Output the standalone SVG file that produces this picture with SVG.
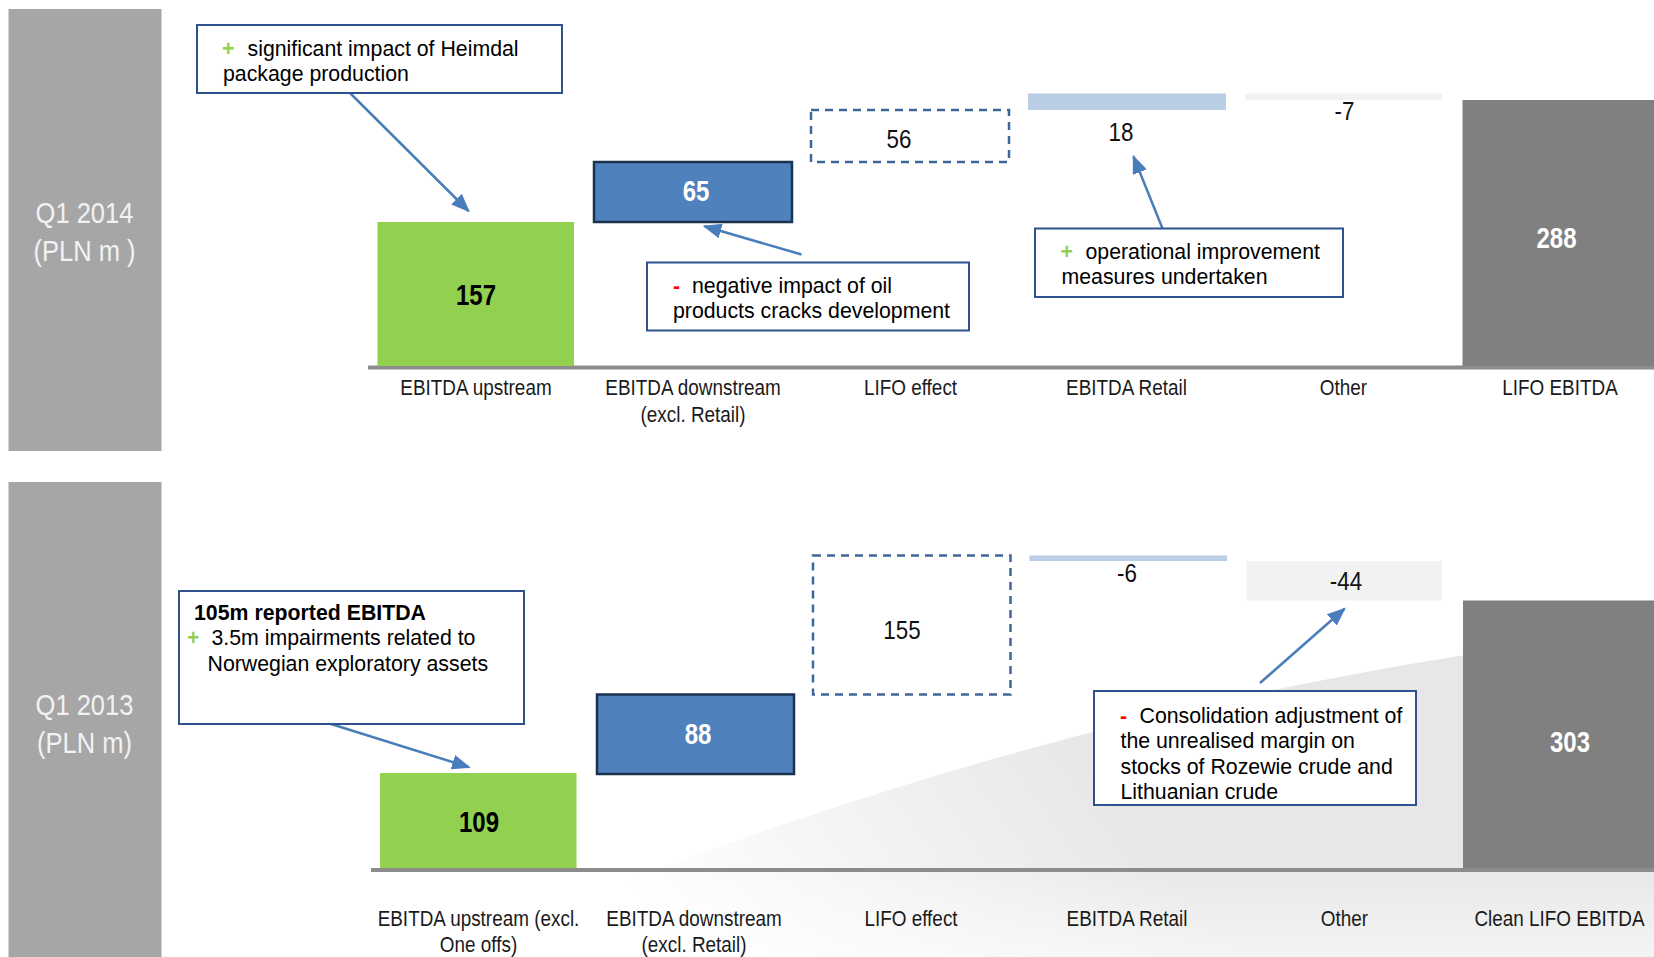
<svg xmlns="http://www.w3.org/2000/svg" width="1654" height="957" viewBox="0 0 1654 957">
<defs>
<style>
.panel{fill:#a6a6a6}
.ptxt{font-family:"Liberation Sans",Arial,sans-serif;font-size:29px;fill:#f2f2f2;text-anchor:middle}
.lbl{font-family:"Liberation Sans",Arial,sans-serif;font-size:22px;fill:#1a1a1a;text-anchor:middle}
.num{font-family:"Liberation Sans",Arial,sans-serif;font-size:26px;fill:#111;text-anchor:middle}
.bnum{font-family:"Liberation Sans",Arial,sans-serif;font-size:30px;font-weight:bold;text-anchor:middle}
.ctxt{font-family:"Liberation Sans",Arial,sans-serif;font-size:21.3px;fill:#000}
.plus{fill:#92d050;font-weight:bold}
.minus{fill:#ff0000;font-weight:bold}
.box{fill:#ffffff;stroke:#2f528f;stroke-width:2}
.axis{fill:#8c8c8c}
.green{fill:#92d050}
.blue{fill:#4f81bd;stroke:#1b3150;stroke-width:2.5}
.dash{fill:none;stroke:#3c679b;stroke-width:2.5;stroke-dasharray:8 6}
.lblue{fill:#b9cde5}
.other{fill:#f2f2f2}
.dark{fill:#808080}
.arr{stroke:#4a7ebb;stroke-width:2.5;fill:none;marker-end:url(#ah)}
</style>
<marker id="ah" viewBox="0 0 10 8" refX="9" refY="4" markerWidth="7.5" markerHeight="6" orient="auto" markerUnits="strokeWidth">
<path d="M0,0 L10,4 L0,8 Z" fill="#4a7ebb"/>
</marker>
<linearGradient id="sw" gradientUnits="userSpaceOnUse" x1="680" y1="957" x2="1050" y2="690">
<stop offset="0" stop-color="#ffffff"/>
<stop offset="1" stop-color="#e7e7e7"/>
</linearGradient>
<linearGradient id="fade" x1="0" y1="0" x2="0" y2="1">
<stop offset="0" stop-color="#ffffff" stop-opacity="0"/>
<stop offset="1" stop-color="#ffffff" stop-opacity="0.55"/>
</linearGradient>
</defs>
<rect x="0" y="0" width="1654" height="957" fill="#ffffff"/>
<g id="swoosh">
<path d="M430,957 C700,850 1100,690 1654,630 L1654,957 Z" fill="url(#sw)"/>
<rect x="400" y="860" width="1254" height="97" fill="url(#fade)"/>
</g>

<g id="panel-2014">
<rect class="panel" x="8.5" y="9" width="153" height="442"/>
<text class="ptxt" transform="translate(84.5,223) scale(0.88,1)">Q1 2014</text>
<text class="ptxt" transform="translate(84.5,261) scale(0.88,1)">(PLN m )</text>
</g>
<g id="panel-2013">
<rect class="panel" x="8.5" y="482" width="153" height="475"/>
<text class="ptxt" transform="translate(84.5,715) scale(0.88,1)">Q1 2013</text>
<text class="ptxt" transform="translate(84.5,753) scale(0.88,1)">(PLN m)</text>
</g>

<g id="axis-2014"><rect class="axis" x="368" y="365.5" width="1286" height="4"/></g>
<g id="axis-2013"><rect class="axis" x="371" y="868" width="1283" height="4"/></g>

<g id="bar-2014-upstream">
<rect class="green" x="377.5" y="222" width="196.5" height="144"/>
<text class="bnum" fill="#000" transform="translate(476,305) scale(0.8,1)">157</text>
<text class="lbl" transform="translate(476,395) scale(0.86,1)">EBITDA upstream</text>
</g>
<g id="bar-2014-downstream">
<rect class="blue" x="594" y="162" width="198" height="60"/>
<text class="bnum" fill="#fff" transform="translate(696,201) scale(0.8,1)">65</text>
<text class="lbl" transform="translate(693,395) scale(0.86,1)">EBITDA downstream</text>
<text class="lbl" transform="translate(693,421.5) scale(0.86,1)">(excl. Retail)</text>
</g>
<g id="bar-2014-lifo">
<rect class="dash" x="811" y="110" width="198" height="52"/>
<text class="num" transform="translate(899,148) scale(0.86,1)">56</text>
<text class="lbl" transform="translate(910.5,395) scale(0.86,1)">LIFO effect</text>
</g>
<g id="bar-2014-retail">
<rect class="lblue" x="1028" y="93.5" width="198" height="16.5"/>
<text class="num" transform="translate(1121,141) scale(0.86,1)">18</text>
<text class="lbl" transform="translate(1126.5,395) scale(0.86,1)">EBITDA Retail</text>
</g>
<g id="bar-2014-other">
<rect class="other" x="1245" y="93.5" width="197" height="6.5"/>
<text class="num" transform="translate(1344.5,120) scale(0.86,1)">-7</text>
<text class="lbl" transform="translate(1343.5,395) scale(0.86,1)">Other</text>
</g>
<g id="bar-2014-total">
<rect class="dark" x="1462.5" y="100" width="191.5" height="266"/>
<text class="bnum" fill="#fff" transform="translate(1556.5,248) scale(0.8,1)">288</text>
<text class="lbl" transform="translate(1560,395) scale(0.86,1)">LIFO EBITDA</text>
</g>

<g id="bar-2013-upstream">
<rect class="green" x="380" y="773" width="196.5" height="95"/>
<text class="bnum" fill="#000" transform="translate(479,832) scale(0.8,1)">109</text>
<text class="lbl" transform="translate(478.5,926) scale(0.86,1)">EBITDA upstream (excl.</text>
<text class="lbl" transform="translate(478.5,952) scale(0.86,1)">One offs)</text>
</g>
<g id="bar-2013-downstream">
<rect class="blue" x="597" y="694.5" width="197" height="79.5"/>
<text class="bnum" fill="#fff" transform="translate(698,744) scale(0.8,1)">88</text>
<text class="lbl" transform="translate(694,926) scale(0.86,1)">EBITDA downstream</text>
<text class="lbl" transform="translate(694,952) scale(0.86,1)">(excl. Retail)</text>
</g>
<g id="bar-2013-lifo">
<rect class="dash" x="813" y="555.5" width="197.5" height="139"/>
<text class="num" transform="translate(902,639) scale(0.86,1)">155</text>
<text class="lbl" transform="translate(911,926) scale(0.86,1)">LIFO effect</text>
</g>
<g id="bar-2013-retail">
<rect class="lblue" x="1029.5" y="555.5" width="197.5" height="5.5"/>
<text class="num" transform="translate(1127,582) scale(0.86,1)">-6</text>
<text class="lbl" transform="translate(1127,926) scale(0.86,1)">EBITDA Retail</text>
</g>
<g id="bar-2013-other">
<rect class="other" x="1246.5" y="561" width="195.5" height="39.5"/>
<text class="num" transform="translate(1346,590) scale(0.86,1)">-44</text>
<text class="lbl" transform="translate(1344.5,926) scale(0.86,1)">Other</text>
</g>
<g id="bar-2013-total">
<rect class="dark" x="1463" y="600.5" width="191" height="267.5"/>
<text class="bnum" fill="#fff" transform="translate(1570,752) scale(0.8,1)">303</text>
<text class="lbl" transform="translate(1559.5,926) scale(0.86,1)">Clean LIFO EBITDA</text>
</g>

<g id="connectors">
<line class="arr" x1="350" y1="93" x2="468.5" y2="211"/>
<line class="arr" x1="801.5" y1="254.5" x2="704.5" y2="226.3"/>
<line class="arr" x1="1162.5" y1="228.5" x2="1133.5" y2="156.5"/>
<line class="arr" x1="331" y1="724" x2="469" y2="767.2"/>
<line class="arr" x1="1260" y1="683" x2="1344.5" y2="608.8"/>
</g>

<g id="callout-heimdal">
<rect class="box" x="197" y="25" width="365" height="68"/>
<text class="ctxt" x="222" y="56"><tspan class="plus">+</tspan></text>
<text class="ctxt" x="247.5" y="56">significant impact of Heimdal</text>
<text class="ctxt" x="223" y="81">package production</text>
</g>
<g id="callout-cracks">
<rect class="box" x="647" y="262.5" width="322" height="68"/>
<text class="ctxt" x="673" y="292.5"><tspan class="minus">-</tspan></text>
<text class="ctxt" x="692" y="292.5">negative impact of oil</text>
<text class="ctxt" x="673" y="318">products cracks development</text>
</g>
<g id="callout-operational">
<rect class="box" x="1035" y="228.5" width="308" height="68.5"/>
<text class="ctxt" x="1060.5" y="258.5"><tspan class="plus">+</tspan></text>
<text class="ctxt" x="1085.5" y="258.5">operational improvement</text>
<text class="ctxt" x="1061.5" y="284">measures undertaken</text>
</g>
<g id="callout-reported">
<rect class="box" x="179" y="591" width="345" height="133"/>
<text class="ctxt" x="194" y="620" font-weight="bold">105m reported EBITDA</text>
<text class="ctxt" x="187" y="645"><tspan class="plus">+</tspan></text>
<text class="ctxt" x="211.5" y="645">3.5m impairments related to</text>
<text class="ctxt" x="207.5" y="670.5">Norwegian exploratory assets</text>
</g>
<g id="callout-consolidation">
<rect class="box" x="1094" y="691" width="322" height="114"/>
<text class="ctxt" x="1120" y="722.5"><tspan class="minus">-</tspan></text>
<text class="ctxt" x="1139.5" y="722.5">Consolidation adjustment of</text>
<text class="ctxt" x="1120.5" y="748">the unrealised margin on</text>
<text class="ctxt" x="1120.5" y="773.5">stocks of Rozewie crude and</text>
<text class="ctxt" x="1120.5" y="799">Lithuanian crude</text>
</g>
</svg>
